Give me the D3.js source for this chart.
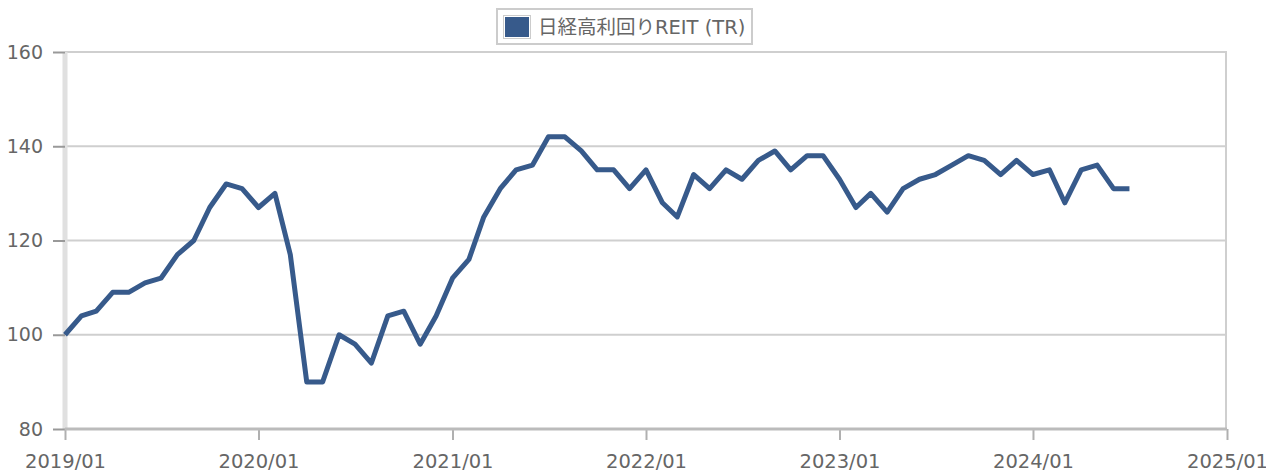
<!DOCTYPE html>
<html>
<head>
<meta charset="utf-8">
<script src="https://cdn.jsdelivr.net/npm/d3@7"></script>
<style>
body{margin:0;background:#fff;}
text{font-family:"DejaVu Sans","Noto Sans CJK JP",sans-serif;fill:#666;}
</style>
</head>
<body>
<script>
// monthly values, 2019/01 .. 2024/07
var startMonth='2019/01';
var seriesName='日経高利回りREIT (TR)';
var values=[100,104,105,109,109,111,112,117,120,127,132,131,
    127,130,117,90,90,100,98,94,104,105,98,104,
    112,116,125,131,135,136,142,142,139,135,135,131,
    135,128,125,134,131,135,133,137,139,135,138,138,
    133,127,130,126,131,133,134,136,138,137,134,137,
    134,135,128,135,136,131,131];
var xTickLabels=['2019/01','2020/01','2021/01','2022/01','2023/01','2024/01','2025/01'];
var yTicks=[80,100,120,140,160];

var width=1266,height=470;
var plotL=65,plotR=1227,plotT=52,plotB=429;

var parse=d3.timeParse('%Y/%m');
var t0=parse(startMonth);
var dataSet=values.map(function(v,i){
    return {date:d3.timeMonth.offset(t0,i),value:v};
});

var svg=d3.select('body').append('svg')
    .attr('width',width)
    .attr('height',height);

var xScale=d3.scaleTime()
    .domain([parse(xTickLabels[0]),parse(xTickLabels[xTickLabels.length-1])])
    .range([plotL,plotR]);
var yScale=d3.scaleLinear()
    .domain([80,160])
    .range([plotB,plotT]);

// grid
svg.append('g').selectAll('line')
    .data(yTicks.filter(function(d){return d>80;}))
    .enter().append('line')
    .attr('x1',plotL).attr('x2',plotR)
    .attr('y1',function(d){return yScale(d);})
    .attr('y2',function(d){return yScale(d);})
    .style('stroke','#cfcfcf')
    .style('stroke-width',2);

// right border
svg.append('line')
    .attr('x1',plotR-1).attr('x2',plotR-1)
    .attr('y1',plotT).attr('y2',plotB)
    .style('stroke','#cfcfcf')
    .style('stroke-width',2);

// left axis line
svg.append('line')
    .attr('x1',plotL).attr('x2',plotL)
    .attr('y1',plotT).attr('y2',plotB)
    .style('stroke','#e0e0e0')
    .style('stroke-width',5);

// y axis
var yAxis=d3.axisLeft(yScale)
    .tickValues(yTicks)
    .tickSize(12)
    .tickPadding(10)
    .tickFormat(d3.format('d'));
var gy=svg.append('g')
    .attr('transform','translate('+plotL+',0)')
    .call(yAxis);
gy.select('.domain').remove();
gy.selectAll('.tick line').style('stroke','#999').style('stroke-width',2);
gy.selectAll('.tick text').style('font-size','19px').style('fill','#666');

// x axis
var xAxis=d3.axisBottom(xScale)
    .tickValues(xTickLabels.map(parse))
    .tickSize(11)
    .tickPadding(14)
    .tickFormat(d3.timeFormat('%Y/%m'));
var gx=svg.append('g')
    .attr('transform','translate(0,'+plotB+')')
    .call(xAxis);
gx.select('.domain').remove();
gx.selectAll('.tick line').style('stroke','#b0b0b0').style('stroke-width',2);
gx.selectAll('.tick text').style('font-size','19.5px').style('fill','#666');

svg.append('line')
    .attr('x1',plotL).attr('x2',plotR)
    .attr('y1',plotB).attr('y2',plotB)
    .style('stroke','#bbb')
    .style('stroke-width',3);

// series line
var line=d3.line()
    .x(function(d){return xScale(d.date);})
    .y(function(d){return yScale(d.value);});
svg.append('path')
    .datum(dataSet)
    .attr('d',line)
    .style('fill','none')
    .style('stroke','#375a8b')
    .style('stroke-width',5)
    .style('stroke-linejoin','round');

// legend
var legend=svg.append('g').attr('id','legend');
legend.append('rect')
    .attr('x',497).attr('y',9)
    .attr('width',255).attr('height',35)
    .style('fill','#fff')
    .style('stroke','#ccc')
    .style('stroke-width',2);
legend.append('rect')
    .attr('x',503.5).attr('y',15.5)
    .attr('width',27).attr('height',23)
    .style('fill','#fff')
    .style('stroke','#ccc')
    .style('stroke-width',1);
legend.append('rect')
    .attr('x',505).attr('y',17)
    .attr('width',24).attr('height',20)
    .style('fill','#375a8b');
legend.append('text')
    .attr('x',538).attr('y',34)
    .style('font-size','19.5px')
    .text(seriesName);
</script>
</body>
</html>
